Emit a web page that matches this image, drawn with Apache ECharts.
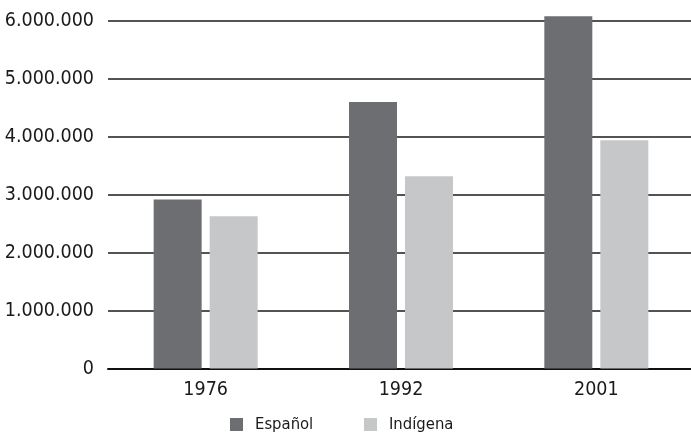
<!DOCTYPE html>
<html>
<head>
<meta charset="utf-8">
<script src="https://cdn.jsdelivr.net/npm/echarts@6/dist/echarts.min.js"></script>
<style>
  html, body { margin: 0; padding: 0; background: #fff; }
  #chart { width: 691px; height: 433px; }
</style>
</head>
<body>
<div id="chart"></div>
<script>
// Census years and speakers by language
const years = ['1976', '1992', '2001'];
const espanol = [2920000, 4600000, 6080000];
const indigena = [2630000, 3320000, 3940000];
const seriesNames = ['Español', 'Indígena'];
const yTicks = [0, 1000000, 2000000, 3000000, 4000000, 5000000, 6000000];

const FONT = '"DejaVu Sans Condensed", "Liberation Sans", Arial, sans-serif';

// Thousands separated by dots: 6.000.000
function fmt(v) {
  return String(Math.round(v)).replace(/\B(?=(\d{3})+(?!\d))/g, '.');
}

const chart = echarts.init(document.getElementById('chart'), null, { renderer: 'canvas' });

const legendText = { fontFamily: FONT, fontSize: 16.5, lineHeight: 16, color: '#1a1a1a', padding: [0, 0, 0, 7] };

chart.setOption({
  animation: false,
  backgroundColor: '#ffffff',
  textStyle: { fontFamily: FONT },
  grid: { left: 108, right: -3, top: 21, bottom: 64.5, containLabel: false, outerBoundsMode: 'none' },
  legend: [
    {
      data: [seriesNames[0]],
      left: 230, top: 416, padding: 0,
      itemWidth: 13, itemHeight: 13, itemGap: 0,
      icon: 'rect',
      textStyle: legendText
    },
    {
      data: [seriesNames[1]],
      left: 364, top: 416, padding: 0,
      itemWidth: 13, itemHeight: 13, itemGap: 0,
      icon: 'rect',
      textStyle: legendText
    }
  ],
  xAxis: {
    type: 'category',
    data: years,
    boundaryGap: true,
    axisLine: { show: true, lineStyle: { color: '#111', width: 2 } },
    axisTick: { show: false },
    axisLabel: { fontFamily: FONT, fontSize: 19.5, color: '#1a1a1a', margin: 11 }
  },
  yAxis: {
    type: 'value',
    min: yTicks[0],
    max: yTicks[yTicks.length - 1],
    interval: yTicks[1] - yTicks[0],
    axisLine: { show: false },
    axisTick: { show: false },
    splitLine: { show: true, lineStyle: { color: '#1a1a1a', width: 1.5 } },
    axisLabel: {
      fontFamily: FONT, fontSize: 19.5, color: '#1a1a1a', margin: 14,
      formatter: fmt
    }
  },
  series: [
    {
      name: seriesNames[0],
      type: 'bar',
      data: espanol,
      barWidth: 48,
      barGap: '16.7%',
      clip: false,
      itemStyle: { color: '#6d6e72' }
    },
    {
      name: seriesNames[1],
      type: 'bar',
      data: indigena,
      barWidth: 48,
      barGap: '16.7%',
      clip: false,
      itemStyle: { color: '#c6c7c9' }
    }
  ]
});
</script>
</body>
</html>
